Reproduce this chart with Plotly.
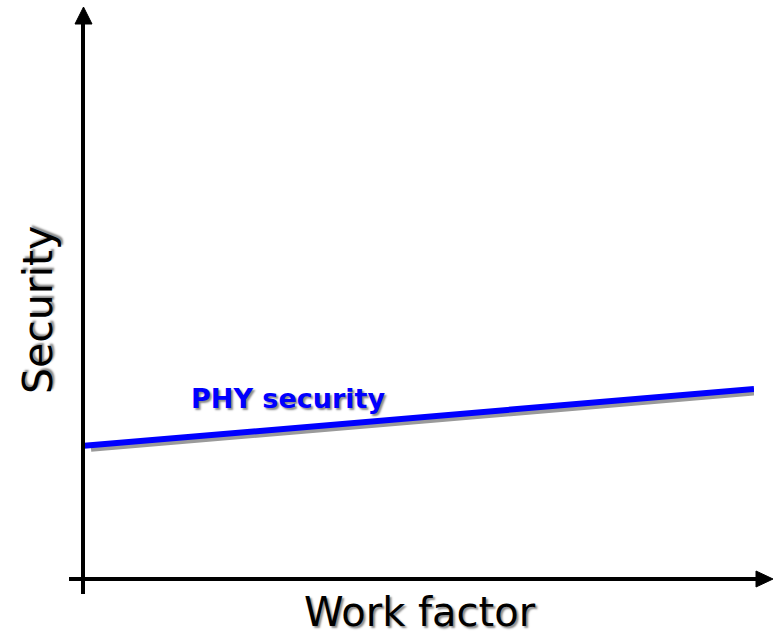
import plotly.graph_objects as go

# ---- data ----
work_factor = [0.0, 10.0]
phy_security = [2.34, 3.34]
series_label = "PHY security"
x_title = "Work factor"
y_title = "Security"

W, H = 779, 636
L, R, T, B = 84, 25, 10, 57
PW, PH = W - L - R, H - T - B

def px(x):
    return (x - L) / PW

def py(y):
    return (H - B - y) / PH

# shadow offset (style) in data units
sdx = 7 / PW * 10
sdy = -3 / PH * 10

fig = go.Figure()
fig.add_trace(go.Scatter(
    x=[v + sdx for v in work_factor], y=[v + sdy for v in phy_security],
    mode="lines", line=dict(color="#9a9a9a", width=6), hoverinfo="skip",
    showlegend=False, cliponaxis=False))
fig.add_trace(go.Scatter(
    x=work_factor, y=phy_security, mode="lines",
    line=dict(color="#0000ff", width=6), name=series_label,
    showlegend=False, cliponaxis=False))

shapes = []
# vertical axis
shapes.append(dict(type="line", xref="paper", yref="paper",
                   x0=px(83), x1=px(83), y0=py(594), y1=py(22),
                   line=dict(color="black", width=4)))
# horizontal axis
shapes.append(dict(type="line", xref="paper", yref="paper",
                   x0=px(69), x1=px(759), y0=py(579), y1=py(579),
                   line=dict(color="black", width=4)))
# arrowheads
def tri(pts):
    p = "M " + " L ".join(f"{px(a)},{py(b)}" for a, b in pts) + " Z"
    return dict(type="path", xref="paper", yref="paper", path=p,
                fillcolor="black", line=dict(color="black", width=1))
shapes.append(tri([(83.5, 7), (75, 24), (92, 24)]))
shapes.append(tri([(773, 579), (756, 571), (756, 587)]))

shadow = "2px 2px 2px #8a8a8a"
annotations = [
    dict(text=series_label, xref="paper", yref="paper", x=px(288), y=py(398),
         xanchor="center", yanchor="middle", showarrow=False,
         font=dict(family="DejaVu Sans", size=27, color="#0000ff",
                   weight="bold", shadow=shadow)),
    dict(text=x_title, xref="paper", yref="paper", x=px(420), y=py(612),
         xanchor="center", yanchor="middle", showarrow=False,
         font=dict(family="DejaVu Sans", size=40, color="black", shadow=shadow)),
    dict(text=y_title, xref="paper", yref="paper", x=px(38), y=py(310),
         xanchor="center", yanchor="middle", showarrow=False, textangle=-90,
         font=dict(family="DejaVu Sans", size=41, color="black", shadow=shadow)),
]

fig.update_layout(
    width=W, height=H, margin=dict(l=L, r=R, t=T, b=B),
    paper_bgcolor="white", plot_bgcolor="white",
    xaxis=dict(range=[0, 10], visible=False, fixedrange=True),
    yaxis=dict(range=[0, 10], visible=False, fixedrange=True),
    shapes=shapes, annotations=annotations, showlegend=False,
)
fig.write_html("out.html", config={"displayModeBar": False},
               post_script="document.body.style.margin='0';document.body.style.overflow='hidden';")
